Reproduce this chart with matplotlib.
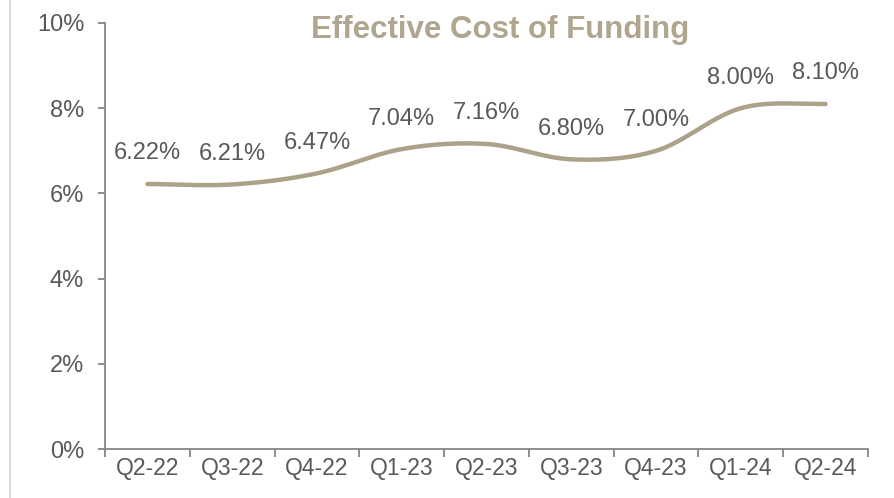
import numpy as np
import matplotlib.pyplot as plt
from matplotlib.lines import Line2D

plt.rcParams['font.family'] = ['Liberation Sans', 'DejaVu Sans']

quarters = ['Q2-22', 'Q3-22', 'Q4-22', 'Q1-23', 'Q2-23', 'Q3-23', 'Q4-23', 'Q1-24', 'Q2-24']
cost = [6.22, 6.21, 6.47, 7.04, 7.16, 6.80, 7.00, 8.00, 8.10]

line_color = '#aca28a'
text_color = '#595959'
axis_color = '#868686'


def smooth(xs, ys, n=30):
    # Catmull-Rom style smoothing, similar to Excel's smoothed line
    xs = np.asarray(xs, float)
    ys = np.asarray(ys, float)
    px = np.concatenate([[2 * xs[0] - xs[1]], xs, [2 * xs[-1] - xs[-2]]])
    py = np.concatenate([[ys[0]], ys, [ys[-1]]])
    out_x, out_y = [], []
    t = np.linspace(0, 1, n)
    for i in range(1, len(px) - 2):
        p0, p1, p2, p3 = (np.array([px[j], py[j]]) for j in range(i - 1, i + 3))
        c1 = p1 + (p2 - p0) / 6
        c2 = p2 - (p3 - p1) / 6
        b = ((1 - t) ** 3)[:, None] * p1 + (3 * (1 - t) ** 2 * t)[:, None] * c1 \
            + (3 * (1 - t) * t ** 2)[:, None] * c2 + (t ** 3)[:, None] * p2
        out_x.extend(b[:, 0])
        out_y.extend(b[:, 1])
    return out_x, out_y


fig = plt.figure(figsize=(8.94, 4.98), dpi=100)
ax = fig.add_axes([105 / 894, 1 - 449 / 498, (868 - 105) / 894, (449 - 23) / 498])

x = np.arange(len(quarters))
sx, sy = smooth(x, cost)
ax.plot(sx, sy, color=line_color, lw=3.2, solid_capstyle='round')

for xi, v in zip(x, cost):
    ax.annotate(f'{v:.2f}%', (xi, v), xytext=(0, 22), textcoords='offset points',
                ha='center', va='center', fontsize=17, color=text_color)

ax.set_xlim(-0.5, len(quarters) - 0.5)
ax.set_ylim(0, 10)
ax.set_yticks(range(0, 11, 2))
ax.set_yticklabels([f'{v}%' for v in range(0, 11, 2)])
ax.set_xticks(x)
ax.set_xticklabels(quarters)
ax.set_xticks(np.arange(-0.5, len(quarters)), minor=True)
ax.tick_params(axis='x', which='major', length=0, pad=6, labelsize=16.5, labelcolor=text_color)
ax.tick_params(axis='x', which='minor', length=6, width=1.3, color=axis_color, direction='out')
ax.tick_params(axis='y', length=5, width=1.3, color=axis_color, labelsize=17,
               labelcolor=text_color, pad=10)

for s in ['top', 'right']:
    ax.spines[s].set_visible(False)
for s in ['left', 'bottom']:
    ax.spines[s].set_color(axis_color)
    ax.spines[s].set_linewidth(1.3)

fig.text(500 / 894, 1 - 30 / 498, 'Effective Cost of Funding', ha='center', va='center',
         fontsize=22.5, fontweight='bold', color='#b0a58f')

fig.add_artist(Line2D([10 / 894, 10 / 894], [0, 1], transform=fig.transFigure,
                      color='#d9d9d9', lw=1.5))

fig.savefig('out.png', dpi=100)
